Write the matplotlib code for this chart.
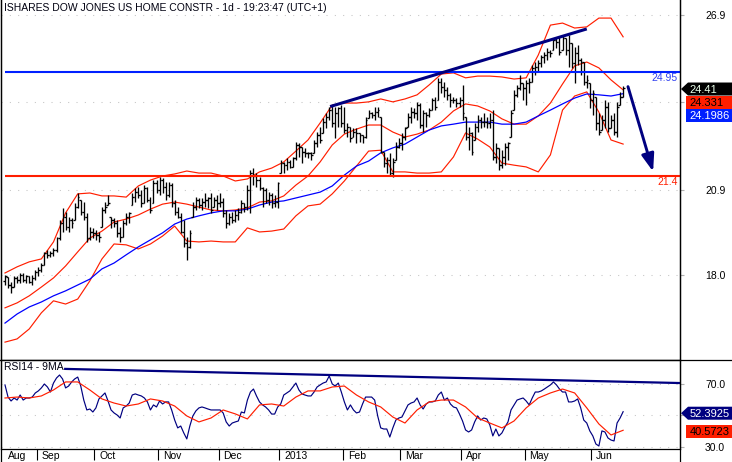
import matplotlib
matplotlib.use("Agg")
import matplotlib.pyplot as plt
import matplotlib.transforms as mtransforms
import numpy as np
from matplotlib.collections import LineCollection
from matplotlib.patches import Polygon
from matplotlib.lines import Line2D

plt.rcParams['font.family'] = ['Liberation Sans', 'DejaVu Sans']

TITLE = "ISHARES DOW JONES US HOME CONSTR - 1d - 19:23:47 (UTC+1)"
RSI_TITLE = "RSI14 - 9MA"

# ---------------- daily OHLC (17 Aug 2012 .. 13 Jun 2013) ----------------
opens = [
    17.80, 17.93, 17.67, 17.61, 17.90, 17.84, 18.01, 17.84, 17.96, 17.78,
    17.90, 18.13, 18.18, 18.35, 18.75, 18.69, 18.75, 18.86, 19.26, 19.78,
    20.00, 19.66, 19.89, 19.89, 20.34, 20.57, 20.17, 20.00, 19.26, 19.49,
    19.43, 19.38, 19.66, 20.23, 20.40, 20.00, 19.89, 19.78, 19.43, 19.32,
    19.78, 20.00, 20.40, 20.69, 20.86, 20.74, 20.46, 20.97, 20.57, 20.46,
    21.14, 20.91, 21.25, 21.03, 20.74, 21.08, 20.46, 20.17, 20.00, 19.49,
    19.09, 18.98, 20.00, 20.34, 20.57, 20.40, 20.51, 20.57, 20.63, 20.34,
    20.57, 20.46, 20.51, 20.12, 19.78, 20.00, 19.89, 20.06, 20.17, 20.46,
    20.34, 20.91, 21.48, 21.40, 21.25, 20.97, 20.91, 20.57, 20.74, 20.46,
    20.51, 21.48, 21.82, 21.77, 21.88, 21.71, 21.99, 22.45, 22.39, 22.22,
    22.16, 22.16, 22.16, 22.51, 22.79, 22.85, 23.24, 23.41, 23.64, 23.19,
    23.53, 23.70, 23.19, 22.96, 23.07, 22.73, 22.90, 22.85, 22.79, 22.73,
    23.36, 23.53, 23.47, 23.59, 23.41, 22.22, 21.82, 21.94, 21.48, 21.94,
    22.39, 22.51, 22.73, 23.07, 23.41, 23.59, 23.53, 23.81, 23.13, 23.53,
    23.47, 23.64, 23.98, 23.98, 24.61, 24.44, 24.33, 24.15, 23.98, 23.98,
    23.87, 23.98, 23.41, 22.73, 22.85, 22.62, 23.07, 23.30, 23.24, 23.24,
    23.19, 23.30, 22.05, 22.33, 21.77, 22.05, 22.39, 22.73, 23.64, 24.15,
    24.38, 24.55, 24.38, 24.55, 24.61, 25.06, 25.12, 25.23, 25.46, 25.52,
    25.63, 25.69, 26.03, 25.97, 25.69, 26.09, 25.69, 25.92, 25.23, 25.58,
    25.35, 25.29, 24.61, 24.55, 23.98, 24.10, 23.19, 22.96, 23.30, 23.76,
    23.02, 23.30, 22.90, 23.81, 24.10,
]
highs = [
    18.01, 17.93, 17.78, 17.98, 17.98, 18.07, 18.07, 18.01, 17.98, 18.01,
    18.18, 18.30, 18.41, 18.81, 18.86, 18.84, 18.92, 19.32, 19.89, 20.29,
    20.17, 20.00, 19.95, 20.46, 20.80, 20.57, 20.51, 20.12, 19.66, 19.60,
    19.55, 19.49, 20.34, 20.51, 20.74, 20.00, 19.95, 19.89, 19.66, 19.89,
    20.12, 20.17, 20.80, 20.97, 21.03, 20.91, 21.08, 21.03, 20.69, 21.25,
    21.25, 21.37, 21.31, 21.20, 21.20, 21.14, 20.57, 20.34, 20.12, 19.89,
    19.32, 19.55, 20.51, 20.69, 20.63, 20.63, 20.80, 20.69, 20.80, 20.69,
    20.74, 20.80, 20.63, 20.23, 20.12, 20.17, 20.23, 20.29, 20.57, 20.46,
    21.08, 21.60, 21.65, 21.48, 21.37, 21.03, 20.97, 20.86, 20.80, 20.74,
    21.20, 21.94, 21.88, 21.99, 21.94, 22.05, 22.56, 22.51, 22.39, 22.33,
    22.22, 22.22, 22.62, 22.90, 23.07, 23.36, 23.53, 23.76, 23.81, 23.76,
    23.76, 23.81, 23.76, 23.19, 23.07, 23.02, 23.02, 22.85, 22.79, 23.41,
    23.64, 23.59, 23.76, 23.76, 23.41, 22.22, 22.05, 22.16, 21.99, 22.56,
    22.68, 22.85, 23.07, 23.53, 23.76, 23.70, 23.93, 23.87, 23.64, 23.59,
    23.70, 24.04, 24.10, 24.72, 24.72, 24.61, 24.44, 24.21, 24.10, 24.04,
    24.10, 24.50, 23.41, 23.07, 22.90, 23.19, 23.47, 23.41, 23.53, 23.41,
    23.53, 23.64, 22.51, 22.33, 22.28, 22.51, 22.56, 23.64, 24.32, 24.50,
    24.84, 24.55, 24.67, 24.72, 25.18, 25.29, 25.35, 25.52, 25.63, 25.75,
    25.69, 26.09, 26.09, 26.15, 26.20, 26.09, 26.20, 25.92, 25.80, 25.86,
    25.41, 25.29, 24.84, 24.55, 24.32, 24.10, 23.53, 23.47, 23.98, 23.93,
    23.47, 23.53, 23.93, 24.27, 24.46,
]
lows = [
    17.67, 17.56, 17.39, 17.61, 17.73, 17.75, 17.78, 17.73, 17.73, 17.67,
    17.84, 17.96, 18.13, 18.35, 18.58, 18.61, 18.66, 18.81, 19.21, 19.49,
    19.55, 19.49, 19.60, 19.89, 20.29, 20.06, 19.89, 19.15, 19.21, 19.26,
    19.21, 19.15, 19.66, 20.12, 20.40, 19.60, 19.66, 19.32, 19.15, 19.32,
    19.72, 19.78, 20.40, 20.51, 20.63, 20.34, 20.46, 20.51, 20.12, 20.46,
    20.80, 20.74, 20.80, 20.57, 20.69, 20.34, 20.06, 19.95, 19.43, 18.98,
    18.52, 18.92, 20.00, 20.23, 20.29, 20.23, 20.34, 20.29, 20.12, 20.34,
    20.23, 20.34, 20.00, 19.60, 19.72, 19.78, 19.83, 19.89, 20.12, 20.17,
    20.23, 20.12, 21.08, 21.03, 20.91, 20.34, 20.46, 20.40, 20.29, 20.34,
    20.29, 21.48, 21.48, 21.60, 21.65, 21.71, 21.94, 22.05, 21.82, 22.05,
    21.99, 21.94, 22.16, 22.39, 22.51, 22.85, 23.02, 23.30, 23.07, 22.68,
    23.07, 23.07, 22.85, 22.73, 22.56, 22.73, 22.51, 22.56, 22.51, 22.68,
    23.36, 23.36, 23.30, 23.41, 22.16, 21.71, 21.48, 21.42, 21.37, 21.94,
    22.33, 22.28, 22.62, 23.07, 23.19, 23.36, 23.30, 23.02, 22.90, 23.07,
    23.41, 23.64, 23.64, 23.98, 24.21, 24.10, 23.98, 23.76, 23.87, 23.76,
    23.76, 23.30, 22.62, 22.28, 22.11, 22.62, 22.90, 23.02, 23.07, 23.02,
    23.02, 21.94, 21.82, 21.60, 21.65, 21.77, 21.94, 22.73, 23.64, 24.10,
    24.33, 23.98, 23.81, 24.21, 24.61, 24.84, 24.95, 25.12, 25.23, 25.35,
    25.46, 25.69, 25.75, 25.52, 25.69, 25.52, 25.12, 25.06, 24.55, 25.18,
    24.84, 24.50, 24.38, 23.70, 23.47, 22.96, 22.79, 22.96, 23.02, 22.90,
    23.02, 22.79, 22.73, 23.81, 24.10,
]
closes = [
    17.96, 17.67, 17.61, 17.90, 17.84, 18.01, 17.84, 17.96, 17.78, 17.90,
    18.13, 18.18, 18.35, 18.75, 18.69, 18.75, 18.86, 19.26, 19.78, 20.00,
    19.66, 19.89, 19.78, 20.34, 20.69, 20.17, 20.00, 19.26, 19.49, 19.43,
    19.38, 19.32, 20.23, 20.34, 20.46, 19.89, 19.78, 19.43, 19.32, 19.78,
    20.00, 20.12, 20.69, 20.86, 20.74, 20.46, 20.97, 20.57, 20.23, 21.14,
    20.91, 21.25, 21.03, 20.74, 21.08, 20.46, 20.17, 20.00, 19.49, 19.09,
    18.98, 19.43, 20.34, 20.57, 20.40, 20.51, 20.57, 20.63, 20.23, 20.57,
    20.46, 20.51, 20.12, 19.78, 20.00, 19.89, 20.06, 20.17, 20.46, 20.34,
    20.91, 21.48, 21.40, 21.25, 20.97, 20.91, 20.57, 20.74, 20.46, 20.51,
    21.14, 21.82, 21.77, 21.88, 21.71, 21.99, 22.45, 22.39, 22.22, 22.16,
    22.16, 22.11, 22.51, 22.79, 22.62, 23.24, 23.41, 23.64, 23.19, 23.53,
    23.70, 23.19, 22.96, 23.07, 22.68, 22.90, 22.85, 22.79, 22.73, 23.30,
    23.53, 23.47, 23.59, 23.64, 22.22, 21.82, 21.94, 21.48, 21.88, 22.39,
    22.51, 22.73, 23.02, 23.41, 23.59, 23.53, 23.81, 23.13, 23.53, 23.47,
    23.64, 23.98, 23.76, 24.61, 24.44, 24.33, 24.15, 23.98, 23.98, 23.87,
    23.98, 23.53, 22.73, 22.85, 22.22, 23.07, 23.30, 23.24, 23.24, 23.19,
    23.30, 22.05, 22.33, 21.77, 22.05, 22.39, 22.51, 23.53, 24.15, 24.38,
    24.55, 24.38, 24.55, 24.61, 25.06, 25.12, 25.23, 25.46, 25.52, 25.63,
    25.58, 26.03, 25.97, 25.63, 26.09, 25.69, 25.92, 25.23, 25.58, 25.35,
    25.29, 24.61, 24.67, 23.98, 24.21, 23.19, 22.90, 23.30, 23.76, 23.02,
    23.30, 22.90, 23.76, 24.10, 24.41,
]

# ---------------- indicators (read every 4th bar) ----------------
IND_STEP = 4
bb_upper = [
    18.08, 18.29, 18.46, 18.56, 19.14, 20.13, 20.78, 20.81, 20.71, 20.71,
    20.67, 21.05, 21.25, 21.39, 21.46, 21.56, 21.49, 21.49, 21.39, 21.22,
    21.29, 21.53, 21.66, 21.87, 22.24, 22.62, 23.20, 23.81, 23.88, 23.88,
    23.92, 24.02, 23.92, 24.02, 24.16, 24.50, 24.87, 24.91, 24.74, 24.80,
    24.80, 24.77, 24.70, 24.74, 25.52, 26.54, 26.61, 26.44, 26.48, 26.78,
    26.78, 26.14,
]
bb_middle = [
    16.89, 17.06, 17.30, 17.60, 17.91, 18.32, 18.80, 19.27, 19.51, 19.82,
    19.92, 20.06, 20.26, 20.43, 20.50, 20.43, 20.33, 20.23, 20.20, 20.23,
    20.30, 20.50, 20.54, 20.71, 21.08, 21.39, 21.87, 22.45, 22.82, 22.99,
    23.13, 23.13, 22.89, 22.72, 22.82, 22.96, 23.23, 23.61, 23.85, 23.78,
    23.61, 23.34, 23.16, 23.16, 23.44, 23.88, 24.53, 25.15, 25.28, 25.08,
    24.67, 24.33,
]
bb_lower = [
    15.72, 15.83, 16.17, 16.72, 17.13, 17.02, 17.19, 17.81, 18.56, 19.07,
    19.04, 18.90, 19.07, 19.34, 19.68, 19.17, 19.14, 19.17, 19.14, 19.14,
    19.62, 19.48, 19.51, 19.58, 20.03, 20.37, 20.43, 20.78, 21.22, 21.73,
    22.24, 22.27, 21.53, 21.53, 21.49, 21.49, 21.53, 22.04, 22.86, 22.65,
    22.38, 21.83, 21.76, 21.70, 21.53, 22.11, 23.64, 24.12, 24.26, 23.57,
    22.62, 22.48,
]
sma50 = [
    16.37, 16.68, 16.92, 17.09, 17.30, 17.47, 17.67, 17.87, 18.22, 18.42,
    18.70, 18.97, 19.21, 19.45, 19.75, 19.92, 20.03, 20.13, 20.20, 20.20,
    20.26, 20.40, 20.50, 20.54, 20.64, 20.74, 20.84, 21.05, 21.42, 21.73,
    21.90, 22.18, 22.35, 22.48, 22.72, 22.96, 23.10, 23.16, 23.23, 23.23,
    23.23, 23.16, 23.16, 23.23, 23.44, 23.64, 23.85, 24.05, 24.19, 24.16,
    24.12, 24.20,
]
rsi14 = [
    69.4, 61.7, 59.2, 61.1, 59.8, 63.0, 59.8, 61.1, 61.1, 61.7,
    64.3, 65.6, 67.5, 70.0, 68.1, 64.9, 70.6, 73.8, 75.7, 73.2,
    67.5, 68.7, 71.3, 73.2, 74.4, 68.7, 59.8, 53.5, 54.1, 52.2,
    54.8, 60.5, 62.4, 64.3, 59.2, 53.5, 51.6, 50.3, 48.4, 54.8,
    56.0, 57.9, 63.0, 63.7, 63.0, 62.4, 61.1, 58.6, 53.5, 56.7,
    55.4, 59.2, 57.3, 58.6, 58.6, 53.5, 47.1, 42.1, 43.3, 38.9,
    35.1, 43.3, 49.7, 52.9, 54.8, 55.4, 54.8, 54.1, 53.5, 53.5,
    53.5, 53.5, 51.6, 45.9, 43.3, 45.2, 45.9, 46.5, 52.2, 51.6,
    59.8, 64.9, 66.8, 62.4, 58.6, 56.7, 55.4, 53.5, 50.9, 50.9,
    55.4, 57.3, 63.0, 64.3, 65.6, 68.1, 70.6, 66.2, 63.7, 63.0,
    62.4, 62.4, 64.9, 68.1, 69.4, 70.6, 71.3, 75.1, 70.0, 68.7,
    70.6, 64.9, 58.6, 53.5, 56.7, 53.5, 51.6, 52.2, 57.3, 61.7,
    61.7, 61.7, 59.8, 49.7, 42.1, 41.4, 41.4, 36.3, 42.1, 47.1,
    48.4, 49.0, 52.9, 56.7, 57.9, 58.6, 61.1, 56.7, 54.1, 57.3,
    58.6, 58.6, 59.2, 63.0, 64.9, 59.8, 61.1, 57.3, 55.4, 54.8,
    50.9, 46.5, 40.8, 39.5, 40.8, 45.9, 49.7, 47.1, 48.4, 47.8,
    44.0, 37.0, 41.4, 37.0, 38.9, 42.7, 45.9, 53.5, 56.7, 59.8,
    60.5, 61.1, 59.2, 56.7, 61.1, 64.9, 64.9, 65.6, 66.8, 68.1,
    69.4, 71.3, 69.4, 66.8, 64.9, 64.9, 58.6, 58.6, 59.2, 60.5,
    54.8, 47.1, 45.2, 40.2, 37.0, 31.9, 30.6, 40.2, 39.5, 35.7,
    34.4, 33.8, 45.2, 48.4, 52.4,
]
rsi_ma9 = [
    61.1, 61.7, 61.1, 62.4, 66.2, 71.3, 71.3, 66.2, 60.5, 57.9,
    56.0, 57.3, 60.5, 59.2, 56.0, 49.7, 45.9, 48.4, 53.5, 51.0,
    47.8, 56.7, 57.3, 56.0, 61.7, 65.6, 65.6, 68.1, 68.7, 63.0,
    58.6, 55.4, 49.0, 45.2, 53.5, 58.6, 59.8, 59.8, 55.4, 48.4,
    45.2, 42.1, 46.5, 54.8, 61.1, 64.3, 66.8, 64.3, 54.8, 44.6,
    37.6, 40.6,
]

# last-value markers
price_markers = [("24.41", 24.41), ("24.331", 24.331), ("24.1986", 24.1986)]
rsi_markers = [("52.3925", 52.3925), ("40.5723", 40.5723)]

# drawn levels and trend lines (bar index, value)
resistance = 24.95
support = 21.4
price_trend_x, price_trend_y = [107.3, 192.0], [23.76, 26.41]
arrow_x, arrow_y = [205.6, 213.9], [24.44, 21.54]
rsi_trend_x, rsi_trend_y = [19.5, 222.8], [79.6, 70.6]

# gridline levels; labels hidden under the value boxes are left blank
price_ticks = [26.9, 23.9, 20.9, 18.0]
price_tick_labels = ["26.9", "", "20.9", "18.0"]
rsi_ticks = [70.0, 50.0, 30.0]
rsi_tick_labels = ["70.0", "", "30.0"]
month_labels = ["Aug", "Sep", "Oct", "Nov", "Dec", "2013", "Feb", "Mar", "Apr", "May", "Jun"]
month_first_bar = [0, 11, 30, 51, 71, 91, 112, 131, 151, 172, 194]

# ---------------- layout ----------------
W, H = 732, 462
fig = plt.figure(figsize=(W / 100, H / 100), dpi=100)
fig.patch.set_facecolor("white")


def frac(x0, y0, x1, y1):
    return [x0 / W, 1 - y1 / H, (x1 - x0) / W, (y1 - y0) / H]


ax = fig.add_axes(frac(1, 0, 680, 360))
axr = fig.add_axes(frac(1, 360, 680, 449))

XMIN, XMAX = -1.32, 222.77
FS = 7.5
RED = "#ff1e00"
BLUE = "#0020ff"
NAVY = "#000080"
GRID = "#c4c4c4"

n = len(closes)
idx = np.arange(n)
ind_idx = np.arange(0, n, IND_STEP)

# ---- price panel ----
ax.set_xlim(XMIN, XMAX)
ax.set_ylim(15.11, 27.397)
ax.set_facecolor("white")

ax.grid(axis="y", color=GRID, linestyle=(0, (1, 7)), linewidth=0.75)
ax.set_axisbelow(True)

ax.plot(ind_idx, bb_upper, color=RED, lw=0.85, zorder=2)
ax.plot(ind_idx, bb_middle, color=RED, lw=0.85, zorder=2)
ax.plot(ind_idx, bb_lower, color=RED, lw=0.85, zorder=2)
ax.plot(ind_idx, sma50, color="#0000ff", lw=0.9, zorder=2)

segs = []
for i in range(n):
    segs.append([(i, lows[i]), (i, highs[i])])
    segs.append([(i - 0.55, opens[i]), (i, opens[i])])
    segs.append([(i, closes[i]), (i + 0.55, closes[i])])
ax.add_collection(LineCollection(segs, colors="black", linewidths=0.95, zorder=3))

ax.hlines(resistance, 0, XMAX, color=BLUE, lw=1.5, zorder=4)
ax.hlines(support, 0, XMAX, color=RED, lw=1.5, zorder=4)
ax.text(222.1, resistance - 0.04, f"{resistance:.2f}", color="#3040f0", fontsize=FS,
        ha="right", va="top", zorder=5)
ax.text(222.1, support - 0.04, f"{support:.1f}", color=RED, fontsize=FS,
        ha="right", va="top", zorder=5)

ax.plot(price_trend_x, price_trend_y, color=NAVY, lw=2.2, solid_capstyle="butt", zorder=5)
ax.annotate("", xy=(arrow_x[1], arrow_y[1]), xytext=(arrow_x[0], arrow_y[0]),
            arrowprops=dict(arrowstyle="-|>,head_length=0.7,head_width=0.25",
                            color=NAVY, lw=2.1, mutation_scale=15,
                            shrinkA=0, shrinkB=0), zorder=5)

ax.yaxis.tick_right()
ax.set_yticks(price_ticks)
ax.set_yticklabels(price_tick_labels)
ax.tick_params(axis="y", direction="out", length=3, width=0.8, color="#b0b0b0",
               pad=15, labelsize=FS, labelcolor="black")
ax.set_xticks([])
for side in ["left", "right", "bottom"]:
    ax.spines[side].set_color("black")
    ax.spines[side].set_linewidth(0.9)
ax.spines["top"].set_visible(False)

# ---- RSI panel ----
axr.set_xlim(XMIN, XMAX)
axr.set_ylim(28.7, 85.24)
axr.grid(axis="y", color=GRID, linestyle=(0, (1, 7)), linewidth=0.75)
axr.set_axisbelow(True)
axr.plot(idx, rsi14, color=NAVY, lw=0.85, zorder=3)
axr.plot(ind_idx, rsi_ma9, color=RED, lw=0.85, zorder=3)
axr.plot(rsi_trend_x, rsi_trend_y, color=NAVY, lw=1.6, solid_capstyle="butt", zorder=4)

axr.yaxis.tick_right()
axr.set_yticks(rsi_ticks)
axr.set_yticklabels(rsi_tick_labels)
axr.tick_params(axis="y", direction="out", length=3, width=0.8, color="#b0b0b0",
                pad=15, labelsize=FS, labelcolor="black")
bounds = [b - 0.5 for b in month_first_bar[1:]]
axr.set_xticks(bounds)
axr.set_xticklabels([])
axr.tick_params(axis="x", direction="out", length=8, width=0.8, color="black")
trans = mtransforms.blended_transform_factory(axr.transData, axr.transAxes)
for lab, b in zip(month_labels, month_first_bar):
    axr.text(b - 0.5 + 1.6, -0.08, lab, transform=trans, fontsize=FS,
             ha="left", va="center", clip_on=False)
for side in ["left", "right", "bottom", "top"]:
    axr.spines[side].set_color("black")
    axr.spines[side].set_linewidth(0.9)

# ---- overlay in pixel space: titles, value boxes, frame lines ----
ov = fig.add_axes([0, 0, 1, 1], zorder=10)
ov.set_xlim(0, W)
ov.set_ylim(H, 0)
ov.axis("off")
ov.patch.set_alpha(0)

ov.text(4, 8, TITLE, fontsize=FS, color="#000010", ha="left", va="center")
ov.text(4, 367.5, RSI_TITLE, fontsize=FS, color="#000010", ha="left", va="center")

ov.add_line(Line2D([0.5, 0.5], [0, H], color="black", lw=0.9))
ov.add_line(Line2D([679.5, 679.5], [0, H], color="black", lw=0.9))
ov.add_line(Line2D([0, W], [360, 360], color="black", lw=0.9))


def ypix(axis, v):
    return H - axis.transData.transform((0, v))[1]


def marker(yc, text, face, tcolor, arrow, h=13):
    top, bot = yc - h / 2, yc + h / 2
    if arrow:
        pts = [(681, yc), (688, top), (W + 2, top), (W + 2, bot), (688, bot)]
    else:
        pts = [(686, top), (W + 2, top), (W + 2, bot), (686, bot)]
    ov.add_patch(Polygon(pts, closed=True, facecolor=face, edgecolor="none"))
    ov.text(689.5, yc + 0.5, text, color=tcolor, fontsize=8, ha="left", va="center")


styles = [("black", "#eaffea", True), (RED, "black", False), (BLUE, "white", False)]
prev = -1e9
for (txt, val), (face, tc, arr) in zip(price_markers, styles):
    yc = max(ypix(ax, val) + 1.5, prev + 13)
    marker(yc, txt, face, tc, arr)
    prev = yc

rstyles = [(NAVY, "white", True), (RED, "black", False)]
prev = -1e9
for (txt, val), (face, tc, arr) in zip(rsi_markers, rstyles):
    yc = max(ypix(axr, val) + 1.5, prev + 13)
    marker(yc, txt, face, tc, arr)
    prev = yc

fig.savefig("out.png", dpi=100, facecolor="white")
